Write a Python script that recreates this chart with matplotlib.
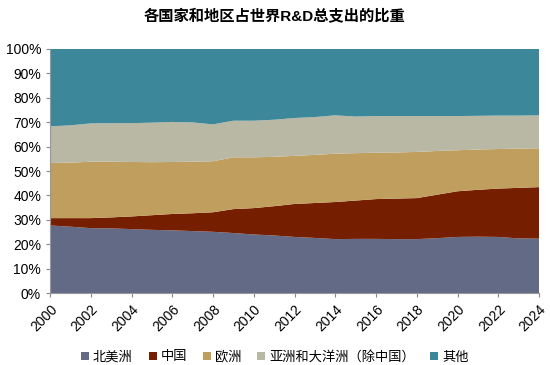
import matplotlib.pyplot as plt
from matplotlib.patches import Patch
from matplotlib.ticker import PercentFormatter

plt.rcParams['font.family'] = ['Liberation Sans', 'Noto Sans CJK SC', 'DejaVu Sans']

years = list(range(2000, 2025))
north_america = [27.7, 27.2, 26.6, 26.5, 26.2, 25.9, 25.7, 25.4, 25.1, 24.6, 24.0, 23.6, 23.0,
                 22.6, 22.1, 22.2, 22.2, 22.1, 22.1, 22.5, 23.0, 23.1, 23.0, 22.4, 22.3]
china = [3.0, 3.5, 4.1, 4.5, 5.2, 6.0, 6.7, 7.3, 8.0, 9.8, 10.8, 12.0, 13.5,
         14.3, 15.2, 15.7, 16.3, 16.6, 16.8, 17.8, 18.7, 19.2, 19.8, 20.7, 21.1]
europe = [22.6, 22.7, 23.1, 22.8, 22.3, 21.7, 21.3, 21.1, 20.9, 21.2, 20.8, 20.2, 19.7,
          19.7, 19.8, 19.4, 19.0, 18.9, 18.9, 17.9, 16.8, 16.5, 16.2, 16.1, 15.9]
asia_oceania = [15.0, 15.3, 15.7, 15.8, 15.9, 16.2, 16.4, 16.1, 15.1, 15.0, 15.0, 15.2, 15.5,
                15.5, 15.7, 15.0, 15.0, 14.9, 14.7, 14.3, 14.0, 13.8, 13.7, 13.5, 13.5]
other = [31.7, 31.3, 30.5, 30.4, 30.4, 30.2, 29.9, 30.1, 30.9, 29.4, 29.4, 29.0, 28.3,
         27.9, 27.2, 27.7, 27.5, 27.5, 27.5, 27.5, 27.5, 27.4, 27.3, 27.3, 27.2]

labels = ["北美洲", "中国", "欧洲", "亚洲和大洋洲（除中国）", "其他"]
colors = ["#636a86", "#761e00", "#bf9e5e", "#b9b8a4", "#3c8799"]

fig = plt.figure(figsize=(5.5, 3.65), dpi=100)
ax = fig.add_axes([0.091, 0.197, 0.889, 0.669])

ax.stackplot(years, north_america, china, europe, asia_oceania, other,
             colors=colors, linewidth=0)

ax.set_xlim(2000, 2024)
ax.set_ylim(0, 100)
ax.set_xticks(years[::2])
ax.set_xticklabels([str(y) for y in years[::2]], rotation=45, ha="right",
                   rotation_mode="anchor", fontsize=10)
ax.set_yticks(range(0, 101, 10))
ax.yaxis.set_major_formatter(PercentFormatter(decimals=0))
ax.tick_params(axis="y", labelsize=10, length=3, color="#888888")
ax.tick_params(axis="x", length=3, color="#888888")

for side in ["top", "right"]:
    ax.spines[side].set_visible(False)
for side in ["left", "bottom"]:
    ax.spines[side].set_color("#999999")

fig.suptitle("各国家和地区占世界R&D总支出的比重", fontsize=11, fontweight="bold",
             x=0.5, y=0.975)

handles = [Patch(facecolor=c, edgecolor="none") for c in colors]
fig.legend(handles, labels, loc="center", bbox_to_anchor=(0.5, 0.022), ncol=5,
           frameon=False, fontsize=9.5, handlelength=0.6, handleheight=0.6,
           handletextpad=0.3, columnspacing=1.2)

fig.savefig("out.png", dpi=100)
